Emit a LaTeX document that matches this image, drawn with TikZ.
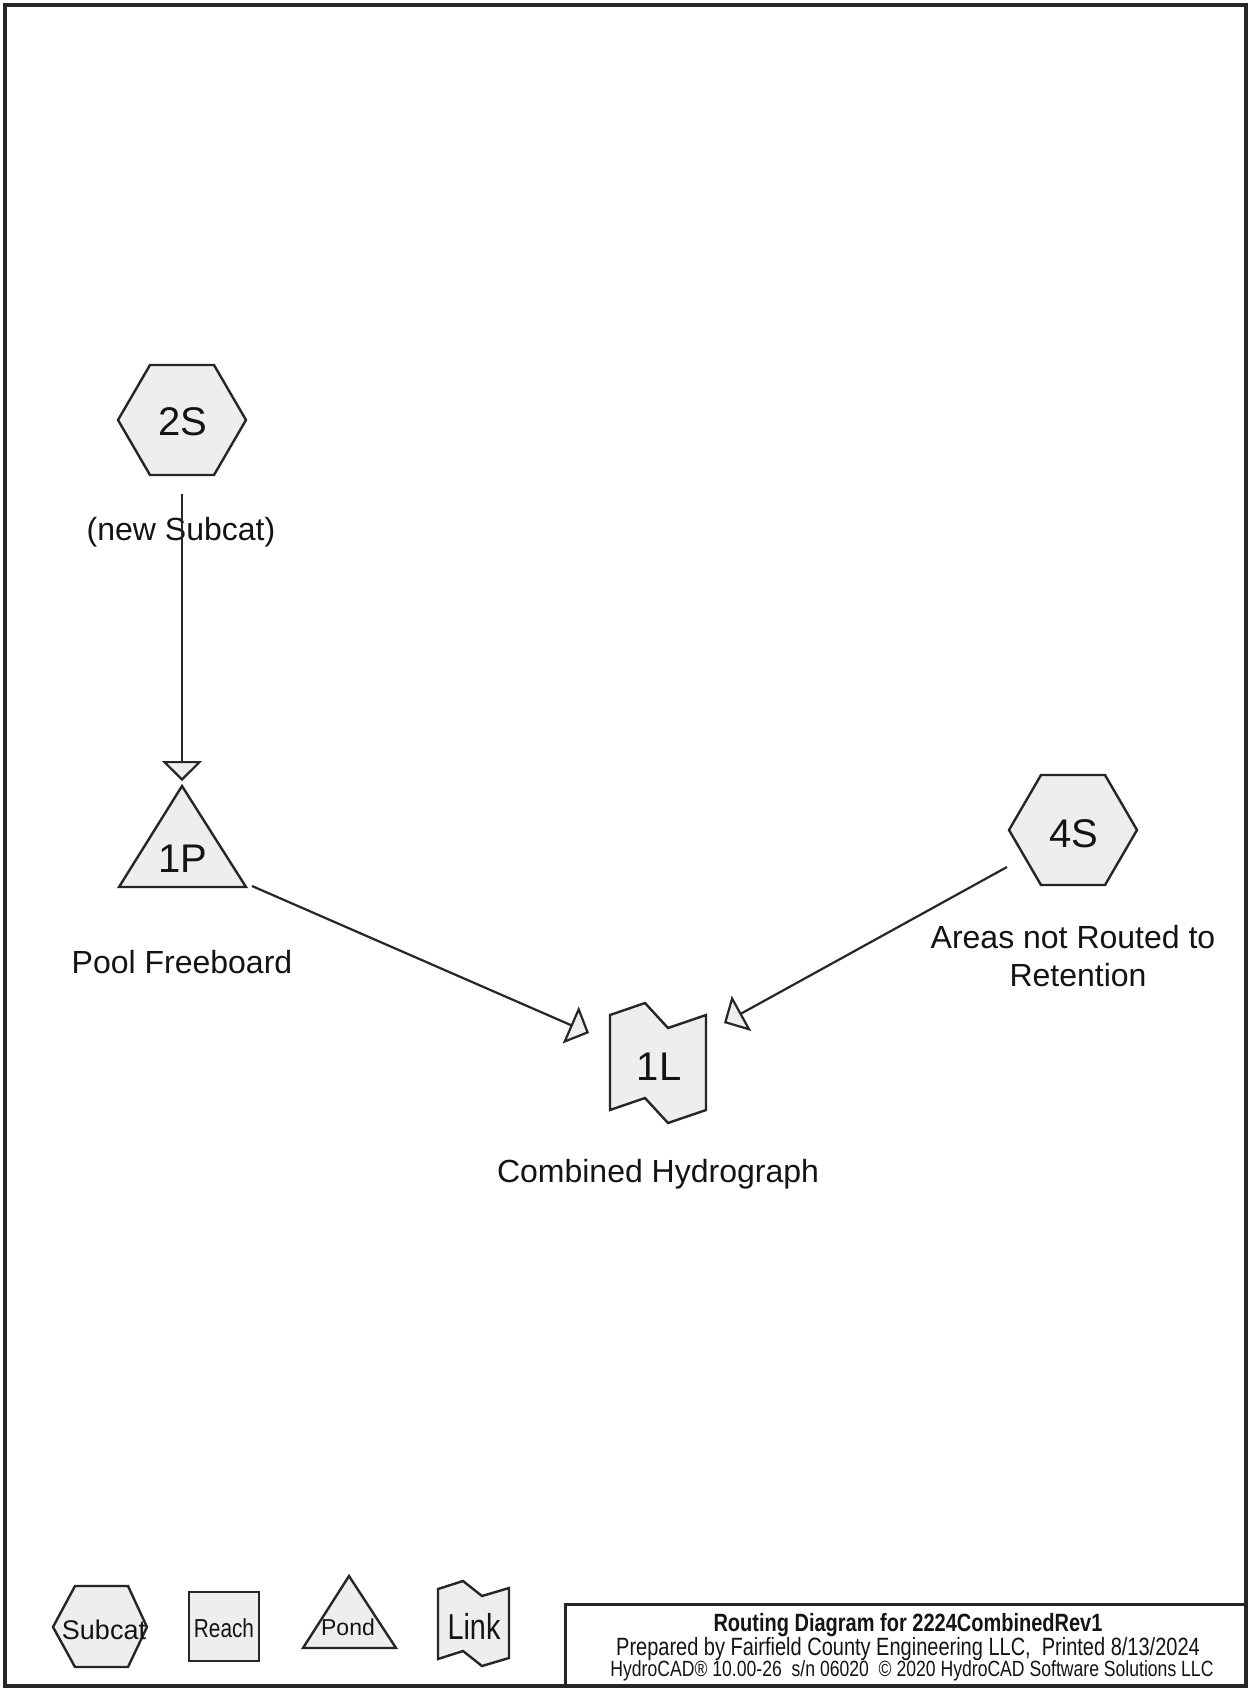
\documentclass[tikz,border=0pt]{standalone}
\usepackage{fontspec}
\setmainfont{Liberation Sans}
\newfontfamily\narrowfont[FakeStretch=0.8]{Liberation Sans}
\usetikzlibrary{arrows.meta}
\definecolor{shapefill}{HTML}{EEEEEE}
\definecolor{ink}{HTML}{262626}
\definecolor{txt}{HTML}{141414}
\tikzset{
  shapeline/.style={draw=ink, fill=shapefill, line width=2.4pt, line join=miter},
  flow/.style={draw=ink, line width=2.2pt,
    -{Triangle[length=20pt,width=40pt,fill=shapefill]}},
  idtext/.style={font=\fontsize{40}{40}\selectfont, anchor=base, inner sep=0pt, text=txt},
  lbl/.style={font=\fontsize{32}{36}\selectfont, anchor=base, inner sep=0pt, text=txt},
  legtext/.style={anchor=base, inner sep=0pt, text=txt},
  titletext/.style={anchor=base, inner sep=0pt, text=txt},
  frameline/.style={draw=ink, line width=4pt},
}
\begin{document}
\begin{tikzpicture}[x=1pt,y=-1pt]
\useasboundingbox (0,0) rectangle (1248,1688);
\fill[white] (0,0) rectangle (1248,1688);

% outer frame
\draw[frameline] (4.5,5) rectangle (1245.5,1685.5);

% ---- shapes ----
% 2S hexagon
\draw[shapeline] (118,420) -- (150,365) -- (214,365) -- (246,420) -- (214,475) -- (150,475) -- cycle;
% 4S hexagon
\draw[shapeline] (1009,830) -- (1041,775) -- (1105,775) -- (1137,830) -- (1105,885) -- (1041,885) -- cycle;
% 1P triangle
\draw[shapeline] (182,786) -- (246,887) -- (119,887) -- cycle;
% 1L link
\draw[shapeline] (610,1015) -- (645,1003) -- (668,1028) -- (706,1015)
  -- (706,1110) -- (668,1123) -- (645,1098) -- (610,1110) -- cycle;

% ---- node ids ----
\node[idtext] (n2S) at (183,435) {2S};
\node[idtext] (n4S) at (1074,847) {4S};
\node[idtext] (n1P) at (183,872) {1P};
\node[idtext] (n1L) at (659,1080) {1L};

% ---- labels ----
\node[lbl] (l2S) at (181,540) {(new Subcat)};
\node[lbl] (l1P) at (182,973) {Pool Freeboard};
\node[lbl] (l4Sa) at (1073,948) {Areas not Routed to};
\node[lbl] (l4Sb) at (1078,986) {Retention};
\node[lbl] (l1L) at (658,1182) {Combined Hydrograph};

% ---- connectors ----
\coordinate (o2S) at (182,494);
\coordinate (i1P) at (182,781);
\coordinate (o1P) at (252,886);
\coordinate (i1La) at (589,1033);
\coordinate (o4S) at (1007,867);
\coordinate (i1Lb) at (724,1023);
\draw[flow] (o2S) -- (i1P);
\draw[flow] (o1P) -- (i1La);
\draw[flow] (o4S) -- (i1Lb);

% ---- legend ----
\draw[shapeline] (53,1627) -- (75,1586) -- (128,1586) -- (147,1627) -- (128,1667) -- (75,1667) -- cycle;
\node[legtext, font=\fontsize{27}{27}\selectfont] (legS) at (104,1639) {Subcat};
\draw[shapeline] (189,1592) rectangle (259,1661);
\node[legtext, font=\narrowfont\fontsize{26}{26}\selectfont] (legR) at (224,1637) {Reach};
\draw[shapeline] (349,1576) -- (396,1648) -- (303,1648) -- cycle;
\node[legtext, font=\fontsize{23}{23}\selectfont] (legP) at (348,1635) {Pond};
\draw[shapeline] (438,1589) -- (463,1581) -- (482,1596) -- (509,1588)
  -- (509,1658) -- (482,1666) -- (463,1651) -- (438,1659) -- cycle;
\node[legtext, font=\narrowfont\fontsize{36}{36}\selectfont] (legL) at (474,1639) {Link};

% ---- title block ----
\draw[draw=ink, line width=3pt] (565,1685.5) -- (565,1604) -- (1245.5,1604);
\node[titletext, font=\narrowfont\bfseries\fontsize{25}{25}\selectfont] (t1) at (908,1631) {Routing Diagram for 2224CombinedRev1};
\node[titletext, font=\narrowfont\fontsize{25}{25}\selectfont] (t2) at (908,1655) {Prepared by Fairfield County Engineering LLC,~ Printed 8/13/2024};
\node[titletext, font=\narrowfont\fontsize{22}{22}\selectfont] (t3) at (912,1676) {HydroCAD® 10.00-26~ s/n 06020~ © 2020 HydroCAD Software Solutions LLC};
\end{tikzpicture}
\end{document}
